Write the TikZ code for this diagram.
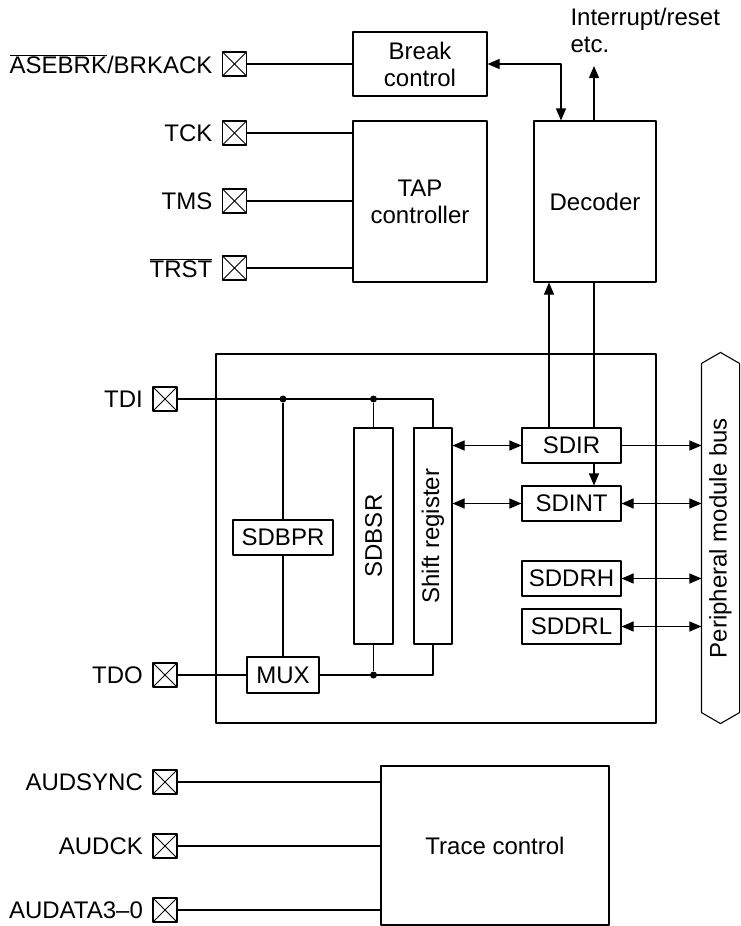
\documentclass[tikz,border=0pt]{standalone}
\usepackage{fontspec}
\setmainfont{Liberation Sans}
\usetikzlibrary{arrows.meta,positioning}
\tikzset{
  blk/.style={draw, inner sep=0pt, align=center},
  pinbox/.style={draw, minimum size=24pt, inner sep=0pt,
    path picture={\draw[line width=0.8pt] (path picture bounding box.north west) -- (path picture bounding box.south east)
      (path picture bounding box.south west) -- (path picture bounding box.north east);}},
  jdot/.style={circle, fill, inner sep=0pt, minimum size=7pt}
}
\begin{document}
\begin{tikzpicture}[x=1pt, y=-1pt, line width=1.1pt, line join=round, >={Triangle[length=12pt,width=10pt]},
  font=\fontsize{24}{27}\selectfont]
\useasboundingbox (0,0) rectangle (740,926);
\node[blk, minimum width=134pt, minimum height=64pt] (brk) at (420,64) {Break\\control};
\node[blk, minimum width=134pt, minimum height=161pt] (tap) at (420,201.5) {TAP\\controller};
\node[blk, minimum width=122pt, minimum height=161pt] (dec) at (595,201.5) {Decoder};
\node[anchor=north west, inner sep=0pt, align=left] (irqtxt) at (570,8) {Interrupt/reset\\etc.};
\node[blk, minimum width=440pt, minimum height=369pt] (sdu) at (436,538.5) {};
\node[blk, minimum width=100pt, minimum height=35pt] (sdbpr) at (283,537.5) {SDBPR};
\node[blk, minimum width=72pt, minimum height=36pt] (mux) at (283,675) {MUX};
\node[blk, minimum width=39pt, minimum height=216pt] (sdbsr) at (373.5,536) {\rotatebox{90}{SDBSR}};
\node[blk, minimum width=38pt, minimum height=216pt] (shreg) at (433,536) {\rotatebox{90}{Shift register}};
\node[blk, minimum width=99pt, minimum height=35pt] (sdir) at (571.5,445.5) {SDIR};
\node[blk, minimum width=99pt, minimum height=35pt] (sdint) at (571.5,503.5) {SDINT};
\node[blk, minimum width=99pt, minimum height=35pt] (sddrh) at (571.5,578.5) {SDDRH};
\node[blk, minimum width=99pt, minimum height=35pt] (sddrl) at (571.5,626.5) {SDDRL};
\node[blk, minimum width=228pt, minimum height=159pt] (trace) at (495,845.5) {Trace control};
\node[inner sep=0pt, minimum width=37pt, minimum height=370pt] (bus) at (720.5,538) {\rotatebox{90}{Peripheral module bus}};
\draw (bus.north) -- ([yshift=-11pt]bus.north east) -- ([yshift=11pt]bus.south east) -- (bus.south)
  -- ([yshift=11pt]bus.south west) -- ([yshift=-11pt]bus.north west) -- cycle;
\foreach \n/\x/\y/\t in {asebrk/234.5/64/{$\overline{\mbox{ASEBRK}}$/BRKACK}, tck/234.5/133/TCK, tms/234.5/201/TMS,
  trst/234.5/268/{$\overline{\mbox{TRST}}$}, tdi/165/399/TDI, tdo/165/675/TDO,
  audsync/165/782/AUDSYNC, audck/165/846/AUDCK, audata/165/910/{AUDATA3–0}}
  {\node[pinbox] (p\n) at (\x,\y) {};
   \node[left=9pt of p\n, inner sep=0pt] (l\n) {\t};}
\draw (pasebrk) -- (brk);
\foreach \n in {tck,tms,trst}
  \draw (p\n) -- (p\n -| tap.west);
\foreach \n in {audsync,audck,audata}
  \draw (p\n) -- (p\n -| trace.west);
\path
  (561,64) coordinate (bd)
  (594,66) coordinate (irq)
  (549,0) coordinate (up)
  ;
\draw[<->] (brk.east) -| (bd |- dec.north);
\draw[->] (irq |- dec.north) -- (irq);
\draw[->] (up |- sdir.north) -- (up |- dec.south);
\draw (irq |- dec.south) -- (irq |- sdir.north);
\draw[->] (irq |- sdir.south) -- (irq |- sdint.north);
\node[jdot] (j1) at (sdbpr |- ptdi) {};
\node[jdot] (j2) at (sdbsr |- ptdi) {};
\node[jdot] (j3) at (sdbsr |- mux.east) {};
\draw (ptdi) -- (ptdi -| shreg) -- (shreg.north);
\draw (j1) -- (sdbpr.north) (sdbpr.south) -- (mux.north);
\draw (j2) -- (sdbsr.north) (j3) -- (sdbsr.south);
\draw (ptdo) -- (mux.west);
\draw (mux.east) -- (mux.east -| shreg) -- (shreg.south);
\draw[<->] (shreg.east |- sdir.west) -- (sdir.west);
\draw[<->] (shreg.east |- sdint.west) -- (sdint.west);
\draw[->] (sdir.east) -- (sdir.east -| bus.west);
\foreach \n in {sdint,sddrh,sddrl}
  \draw[<->] (\n.east) -- (\n.east -| bus.west);
\end{tikzpicture}
\end{document}
